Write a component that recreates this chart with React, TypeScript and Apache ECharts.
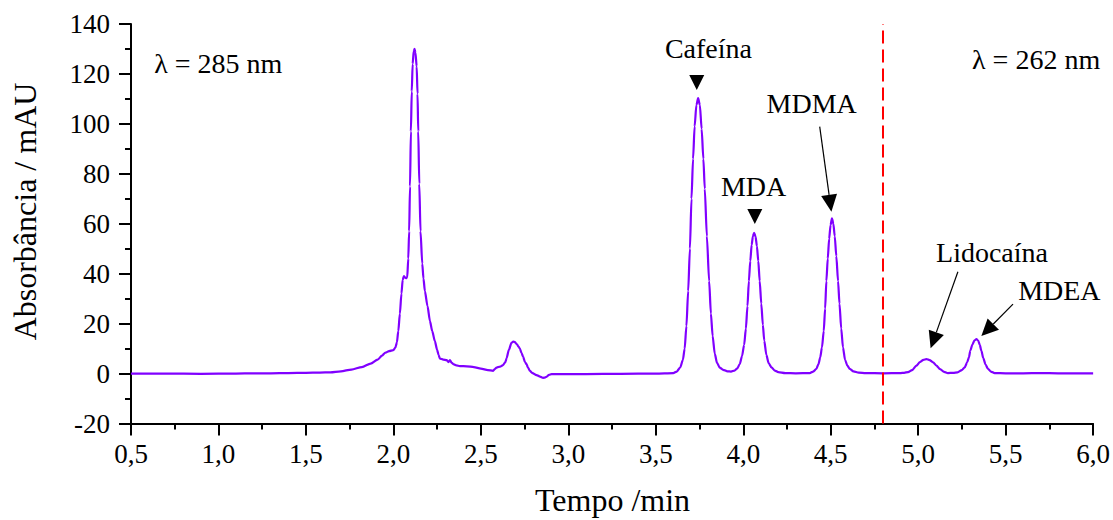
import React, { useEffect, useRef } from 'react';
import * as echarts from 'echarts';

// Chromatogram trace: [time (min), absorbance (mAU)]
const chromatogram: [number, number][] = [
  [0.5, 0], [0.7, 0], [0.9, -0.1], [1.1, 0], [1.2, 0.1], [1.3, 0.1], [1.4, 0.2], [1.5, 0.3],
  [1.58, 0.4], [1.64, 0.5], [1.7, 0.9], [1.76, 1.6], [1.82, 2.6], [1.87, 4.0], [1.91, 5.6],
  [1.935, 7.2], [1.955, 8.4], [1.975, 9.0], [2.0, 9.4], [2.012, 10.5], [2.02, 12.5], [2.028, 17],
  [2.037, 24], [2.046, 32], [2.053, 37.5], [2.06, 39], [2.066, 38.5], [2.072, 38.2], [2.079, 38.5],
  [2.085, 46], [2.09, 57], [2.095, 75], [2.1, 97], [2.105, 113], [2.11, 124], [2.116, 129],
  [2.121, 130], [2.126, 128.5], [2.133, 123], [2.138, 112], [2.142, 97], [2.148, 76], [2.155, 57],
  [2.165, 44], [2.172, 38], [2.18, 33], [2.195, 27], [2.209, 21], [2.222, 17], [2.237, 13],
  [2.25, 9.5], [2.258, 7.5], [2.266, 6], [2.285, 5.6], [2.304, 5.4], [2.315, 4.6], [2.323, 5.4],
  [2.332, 4.4], [2.342, 3.8], [2.36, 3.3], [2.38, 3.0], [2.42, 2.9], [2.46, 2.6], [2.5, 2.0],
  [2.54, 1.4], [2.57, 1.1], [2.58, 1.8], [2.59, 2.4], [2.61, 2.8], [2.627, 3.4], [2.64, 4.6],
  [2.647, 6.1], [2.66, 9.5], [2.675, 12.3], [2.685, 12.8], [2.694, 12.6], [2.705, 11.8],
  [2.715, 10.8], [2.723, 10.0], [2.732, 8.3], [2.742, 6.7], [2.752, 4.6], [2.761, 3.8],
  [2.768, 2.6], [2.78, 1.1], [2.795, 0.2], [2.818, -0.6], [2.838, -1.2], [2.856, -1.7],
  [2.866, -1.6], [2.875, -1.3], [2.89, -0.5], [2.904, -0.2], [2.95, -0.2], [3.1, -0.2],
  [3.3, -0.1], [3.5, 0], [3.6, 0.2],
  // Cafeína
  [3.62, 0.8], [3.64, 2.5], [3.655, 5.5], [3.665, 10], [3.675, 19], [3.685, 33], [3.695, 50],
  [3.704, 70], [3.713, 86], [3.722, 99], [3.732, 107.5], [3.742, 110.3], [3.752, 107.5],
  [3.762, 98], [3.772, 86], [3.78, 74], [3.792, 55], [3.805, 37], [3.815, 24], [3.825, 15],
  [3.837, 8], [3.85, 4.3], [3.865, 2.4], [3.885, 1.5], [3.91, 0.9], [3.93, 0.8],
  // MDA
  [3.95, 1.2], [3.965, 2.0], [3.98, 3.8], [3.993, 7], [4.005, 11.5], [4.015, 18], [4.024, 27],
  [4.032, 37], [4.04, 45], [4.048, 51.5], [4.055, 55], [4.062, 56.4], [4.07, 55], [4.078, 51],
  [4.086, 45], [4.094, 37], [4.103, 28], [4.112, 19.5], [4.12, 13.2], [4.132, 7.5], [4.145, 4.2],
  [4.161, 2.5], [4.18, 1.2], [4.2, 0.6], [4.24, 0.2], [4.3, 0.1], [4.38, 0.2],
  // MDMA
  [4.4, 0.8], [4.418, 1.9], [4.43, 3.8], [4.44, 6.5], [4.45, 10.5], [4.46, 17], [4.468, 26],
  [4.475, 37], [4.483, 46], [4.491, 54], [4.499, 59.5], [4.507, 62.2], [4.515, 60], [4.523, 55],
  [4.532, 47], [4.542, 37], [4.55, 28], [4.56, 18], [4.57, 10.5], [4.582, 5.5], [4.595, 3.2],
  [4.609, 1.9], [4.63, 0.9], [4.66, 0.4], [4.7, 0.2], [4.8, 0.1], [4.9, 0.2],
  // Lidocaína
  [4.92, 0.3], [4.942, 0.6], [4.965, 1.4], [4.99, 3.2], [5.01, 4.6], [5.03, 5.5], [5.047, 5.8],
  [5.065, 5.4], [5.085, 4.5], [5.104, 3.2], [5.125, 1.8], [5.148, 0.7], [5.17, 0.2], [5.2, 0.3],
  // MDEA
  [5.225, 0.5], [5.25, 1.4], [5.266, 2.5], [5.28, 4.5], [5.29, 6.5], [5.298, 9.2], [5.31, 11.6],
  [5.322, 13.3], [5.333, 13.8], [5.343, 13.2], [5.352, 11.5], [5.361, 9.2], [5.372, 6.2],
  [5.385, 3.6], [5.399, 1.9], [5.415, 0.8], [5.437, 0.2], [5.5, 0.1], [5.6, 0.1], [5.7, 0.2],
  [5.8, 0.1], [5.9, 0.1], [6.0, 0.1],
];

const wavelengthSwitch = 4.8;

// Annotation texts (data coordinates)
const textLabels: { text: string; at: [number, number] }[] = [
  { text: 'λ = 285 nm', at: [0.999, 124.0] },
  { text: 'λ = 262 nm', at: [5.674, 125.8] },
  { text: 'Cafeína', at: [3.801, 130.0] },
  { text: 'MDA', at: [4.059, 75.1] },
  { text: 'MDMA', at: [4.391, 108.0] },
  { text: 'Lidocaína', at: [5.422, 48.3] },
  { text: 'MDEA', at: [5.807, 33.2] },
];

// Down-pointing triangle markers (centre, data coordinates)
const triangleMarkers: [number, number][] = [
  [3.734, 116.6],
  [4.066, 62.9],
];

// Arrows: from -> tip (data coordinates)
const arrows: { from: [number, number]; to: [number, number] }[] = [
  { from: [4.437, 98.9], to: [4.504, 64.8] },
  { from: [5.227, 40.8], to: [5.071, 10.1] },
  { from: [5.542, 27.8], to: [5.361, 15.0] },
];

const FONT = 'Liberation Serif';

export default function App() {
  const ref = useRef<HTMLDivElement>(null);

  useEffect(() => {
    document.body.style.margin = '0';
    const chart = echarts.init(ref.current!, null, { renderer: 'svg' });
    const axisColor = '#000';
    chart.setOption({
      animation: false,
      textStyle: { fontFamily: FONT },
      grid: { left: 131, right: 19, top: 24, bottom: 96.5 },
      xAxis: {
        type: 'value',
        min: 0.5,
        max: 6,
        interval: 0.5,
        axisLine: { onZero: false, lineStyle: { color: axisColor, width: 2 } },
        axisTick: { show: true, length: 12, lineStyle: { color: axisColor, width: 2 } },
        minorTick: { show: true, splitNumber: 2, length: 6, lineStyle: { color: axisColor, width: 2 } },
        splitLine: { show: false },
        axisLabel: {
          formatter: (v: number) => v.toFixed(1).replace('.', ','),
          fontFamily: FONT,
          fontSize: 27,
          color: '#000',
          margin: 17,
        },
      },
      yAxis: {
        type: 'value',
        min: -20,
        max: 140,
        interval: 20,
        axisLine: { show: true, lineStyle: { color: axisColor, width: 2 } },
        axisTick: { show: true, length: 12, lineStyle: { color: axisColor, width: 2 } },
        minorTick: { show: true, splitNumber: 2, length: 6, lineStyle: { color: axisColor, width: 2 } },
        splitLine: { show: false },
        axisLabel: { fontFamily: FONT, fontSize: 27, color: '#000', margin: 21 },
      },
      series: [
        {
          type: 'line',
          data: chromatogram,
          showSymbol: false,
          smooth: 0.25,
          smoothMonotone: 'x',
          lineStyle: { color: '#8000ff', width: 2.2 },
          itemStyle: { color: '#8000ff' },
          markLine: {
            silent: true,
            symbol: 'none',
            label: { show: false },
            lineStyle: { color: '#ff0000', type: [13, 6], width: 2 },
            data: [{ xAxis: wavelengthSwitch }],
          },
        },
      ],
    });

    const px = (p: [number, number]) =>
      chart.convertToPixel({ xAxisIndex: 0, yAxisIndex: 0 }, p) as number[];

    const graphics: any[] = [];
    textLabels.forEach((l) => {
      const [x, y] = px(l.at);
      graphics.push({
        type: 'text',
        x,
        y,
        style: {
          text: l.text,
          fontFamily: FONT,
          fontSize: 28,
          fill: '#000',
          align: 'center',
          verticalAlign: 'middle',
        },
      });
    });
    triangleMarkers.forEach((m) => {
      const [x, y] = px(m);
      graphics.push({
        type: 'polygon',
        shape: { points: [[x - 7.5, y - 7.5], [x + 7.5, y - 7.5], [x, y + 7.5]] },
        style: { fill: '#000' },
      });
    });
    arrows.forEach((a) => {
      const [sx, sy] = px(a.from);
      const [tx, ty] = px(a.to);
      const dx = tx - sx;
      const dy = ty - sy;
      const len = Math.hypot(dx, dy);
      const ux = dx / len;
      const uy = dy / len;
      const L = 17;
      const W = 16;
      const bx = tx - ux * L;
      const by = ty - uy * L;
      const nx = -uy;
      const ny = ux;
      graphics.push({
        type: 'line',
        shape: { x1: sx, y1: sy, x2: bx, y2: by },
        style: { stroke: '#000', lineWidth: 1.2 },
      });
      graphics.push({
        type: 'polygon',
        shape: {
          points: [
            [tx, ty],
            [bx + (nx * W) / 2, by + (ny * W) / 2],
            [bx - (nx * W) / 2, by - (ny * W) / 2],
          ],
        },
        style: { fill: '#000' },
      });
    });
    // Axis titles
    graphics.push({
      type: 'text',
      x: 612.5,
      y: 500,
      style: {
        text: 'Tempo /min',
        fontFamily: FONT,
        fontSize: 32,
        fill: '#000',
        align: 'center',
        verticalAlign: 'middle',
      },
    });
    graphics.push({
      type: 'text',
      x: 25,
      y: 211.5,
      rotation: Math.PI / 2,
      style: {
        text: 'Absorbância / mAU',
        fontFamily: FONT,
        fontSize: 32,
        fill: '#000',
        align: 'center',
        verticalAlign: 'middle',
      },
    });
    chart.setOption({ graphic: graphics });

    return () => chart.dispose();
  }, []);

  return (
    <div
      ref={ref}
      style={{ position: 'absolute', left: 0, top: 0, width: 1113, height: 520, background: '#fff' }}
    />
  );
}
